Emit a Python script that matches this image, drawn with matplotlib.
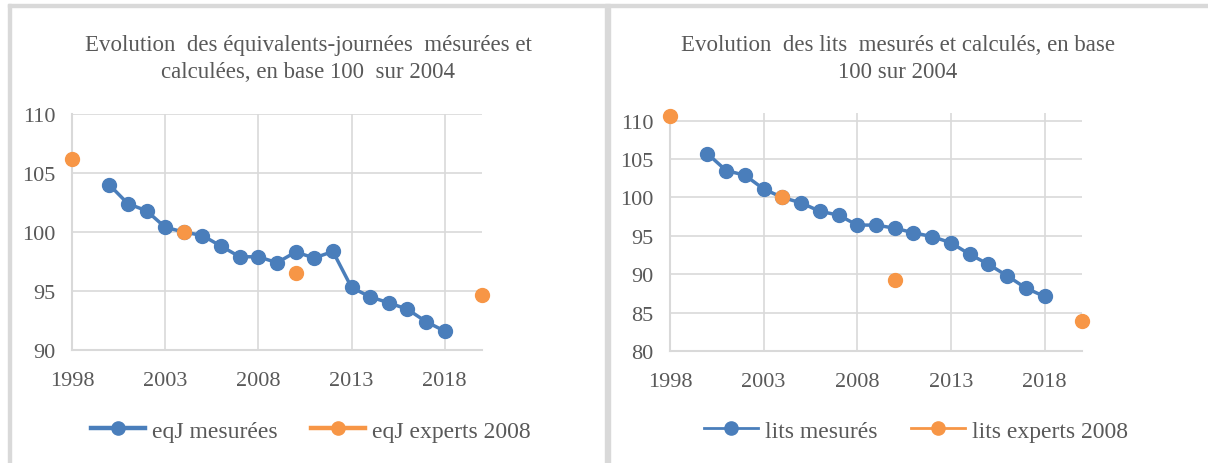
import numpy as np
import matplotlib
matplotlib.use("Agg")
import matplotlib.pyplot as plt
from matplotlib.lines import Line2D
from matplotlib.patches import Rectangle

plt.rcParams["font.family"] = ["Liberation Serif", "DejaVu Serif"]

years = list(range(2000, 2019))

eqj_mesurees = [104.0, 102.4, 101.8, 100.4, 100.0, 99.7, 98.8, 97.9, 97.9, 97.4,
                98.3, 97.8, 98.35, 95.3, 94.5, 94.0, 93.45, 92.4, 91.6]
lits_mesures = [105.7, 103.5, 102.9, 101.1, 100.0, 99.3, 98.2, 97.7, 96.4, 96.4,
                96.0, 95.4, 94.9, 94.1, 92.6, 91.3, 89.8, 88.2, 87.1]

expert_years = [1998, 2004, 2010, 2020]
eqj_experts = [106.2, 100.0, 96.5, 94.7]
lits_experts = [110.6, 100.0, 89.3, 83.9]

titles = ["Evolution  des équivalents-journées  mésurées et\ncalculées, en base 100  sur 2004",
          "Evolution  des lits  mesurés et calculés, en base\n100 sur 2004"]
labels_mes = ["eqJ mesurées", "lits mesurés"]
labels_exp = ["eqJ experts 2008", "lits experts 2008"]

BLUE = "#4A7EBB"
ORANGE = "#F79646"
GRID = "#D9D9D9"
TXT = "#595959"

W, H = 1208, 464
fig = plt.figure(figsize=(W / 100, H / 100), dpi=100)


def fx(px):
    return px / W


def fy(py):
    return 1 - py / H


# panel borders
for x0, y0, w, h in [(8, 5, 1200, 3), (8, 5, 3, 459), (605, 5, 5, 459)]:
    fig.patches.append(Rectangle((fx(x0), fy(y0 + h)), w / W, h / H,
                                 transform=fig.transFigure, color=GRID, zorder=0))

axes_pos = [(72, 115, 482, 351), (670, 114, 1082, 352)]
ylims = [(90, 110), (80, 111)]
yticks = [np.arange(90, 111, 5), np.arange(80, 111, 5)]
series_mes = [eqj_mesurees, lits_mesures]
series_exp = [eqj_experts, lits_experts]
title_x = [308, 898]
legend_x = [311, 916]
legend_lw = [3.2, 2.0]

for i in range(2):
    l, t, r, b = axes_pos[i]
    ax = fig.add_axes([fx(l), fy(b), (r - l) / W, (b - t) / H])
    ax.plot(years, series_mes[i], color=BLUE, lw=2.5, marker="o", ms=10, zorder=3,
            clip_on=False)
    ax.plot(expert_years, series_exp[i], color=ORANGE, ls="none", marker="o", ms=10,
            zorder=4, clip_on=False)
    ax.set_xlim(1998, 2020)
    ax.set_ylim(*ylims[i])
    ax.set_xticks([1998, 2003, 2008, 2013, 2018])
    ax.set_yticks(yticks[i])
    ax.grid(True, color=GRID, lw=1.2)
    ax.set_axisbelow(True)
    for s in ["top", "right"]:
        ax.spines[s].set_visible(False)
    for s in ["left", "bottom"]:
        ax.spines[s].set_color(GRID)
        ax.spines[s].set_linewidth(1.5)
    ax.tick_params(length=0, labelsize=16, labelcolor=TXT)
    ax.tick_params(axis="y", pad=12)
    ax.tick_params(axis="x", pad=15)

    fig.text(fx(title_x[i]), fy(59), titles[i], ha="center", va="center",
             fontsize=16.5, color=TXT, linespacing=1.4)

    handles = [Line2D([], [], color=BLUE, lw=legend_lw[i], marker="o", ms=9.5),
               Line2D([], [], color=ORANGE, lw=legend_lw[i], marker="o", ms=9.5)]
    ax.legend(handles, [labels_mes[i], labels_exp[i]], loc="center",
              bbox_to_anchor=(fx(legend_x[i]), fy(432)), bbox_transform=fig.transFigure,
              ncol=2, frameon=False, fontsize=17, handlelength=2.3,
              handletextpad=0.3, columnspacing=1.4, labelcolor=TXT)

fig.savefig("out.png", dpi=100, facecolor="white")
